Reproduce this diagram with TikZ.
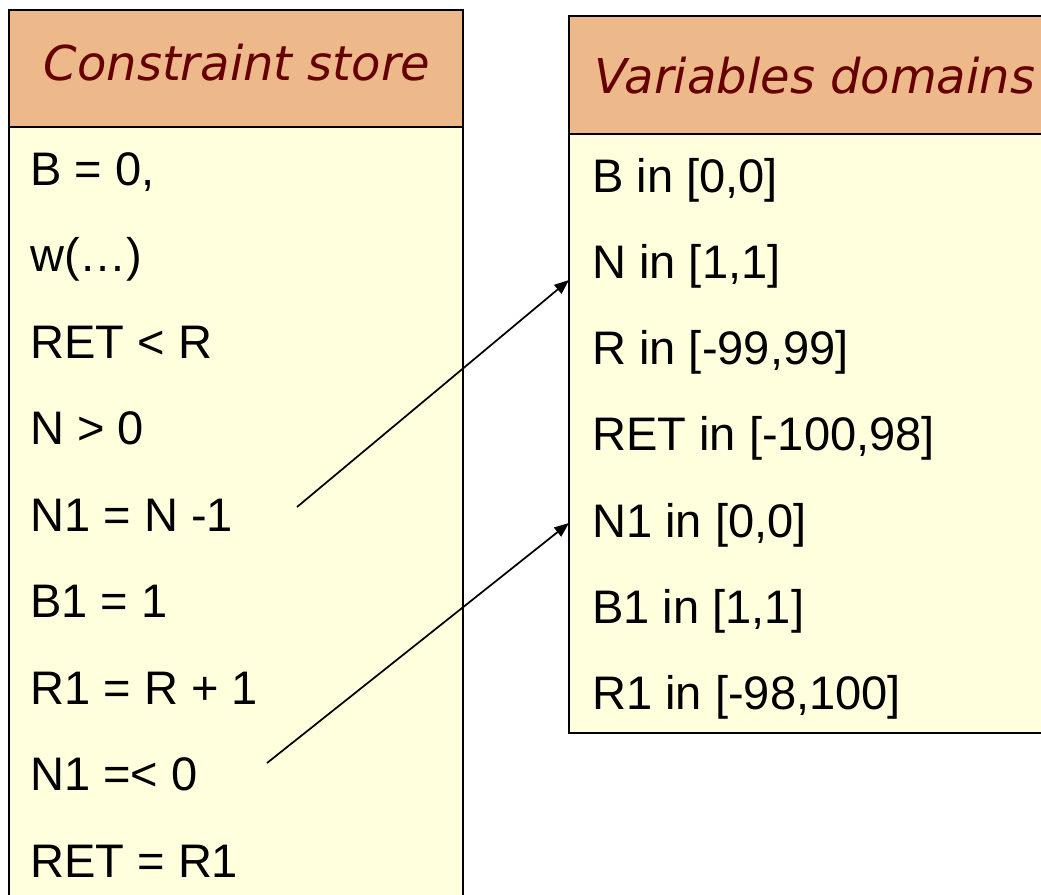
\documentclass[tikz,border=0pt]{standalone}
\usepackage{fontspec}
\setmainfont{Liberation Sans}
\newfontfamily\headfont{DejaVu Sans}
\usetikzlibrary{arrows.meta}
\definecolor{headfill}{RGB}{237,185,139}
\definecolor{bodyfill}{RGB}{255,255,222}
\definecolor{headtext}{RGB}{102,0,0}
\tikzset{
  frame/.style={draw=black, line width=1.3pt},
  headline/.style={font=\headfont\itshape\fontsize{36}{42}\selectfont, text=headtext, anchor=base, inner sep=0pt},
  rowtext/.style={font=\fontsize{35.3}{40}\selectfont, anchor=base west, inner sep=0pt},
  link/.style={line width=1.3pt, -{Triangle[length=11pt,width=8.5pt]}}
}
\begin{document}
\begin{tikzpicture}[x=0.75pt, y=-0.75pt]
  \clip (0,0) rectangle (1041,894);
  \fill[white] (0,0) rectangle (1041,894);

  % constraint store column
  \filldraw[frame, fill=headfill] (9,10) rectangle (463,127);
  \filldraw[frame, fill=bodyfill] (9,127) rectangle (463,920);
  \node[headline] (storehead) at (237,80) {Constraint store};

  % variable domains column
  \filldraw[frame, fill=headfill] (569,16) rectangle (1061,134);
  \filldraw[frame, fill=bodyfill] (569,134) rectangle (1061,733);
  \node[headline] (domhead) at (815,93) {Variables domains};

  % constraints
  \foreach \t [count=\i] in {{B = 0,}, {w(\ldots)}, {RET < R}, {N > 0}, {N1 = N -1},
                            {B1 = 1}, {R1 = R + 1}, {N1 =< 0}, {RET = R1}}
    \node[rowtext] (c\i) at (30,{185+86.5*(\i-1)}) {\t};

  % domains
  \foreach \t [count=\i] in {{B in [0,0]}, {N in [1,1]}, {R in [-99,99]}, {RET in [-100,98]},
                            {N1 in [0,0]}, {B1 in [1,1]}, {R1 in [-98,100]}}
    \node[rowtext] (d\i) at (592,{192+86.3*(\i-1)}) {\t};

  % propagation links
  \coordinate (from1) at (297,507);
  \coordinate (to1) at (569,280);
  \coordinate (from2) at (267,763);
  \coordinate (to2) at (569,523);
  \draw[link] (from1) -- (to1);
  \draw[link] (from2) -- (to2);
\end{tikzpicture}
\end{document}
